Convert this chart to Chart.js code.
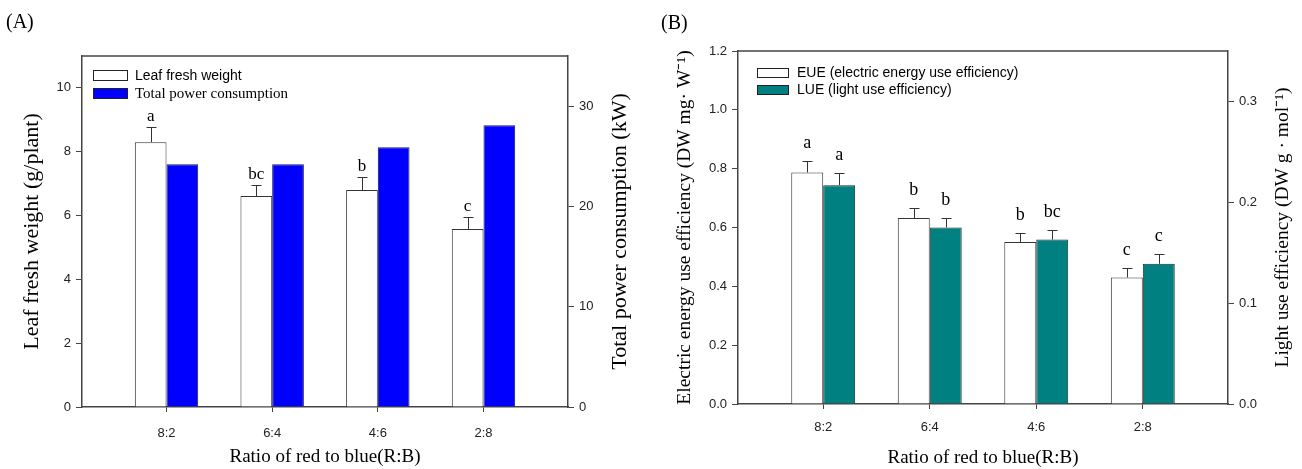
<!DOCTYPE html>
<html>
<head>
<meta charset="utf-8">
<script src="https://cdn.jsdelivr.net/npm/chart.js@4.4.1/dist/chart.umd.min.js"></script>
<style>
  body { margin: 0; background: #fff; }
  #wrap { position: relative; width: 1302px; height: 469px; }
  canvas { position: absolute; top: 0; }
  .tag { position: absolute; font: 20px 'Liberation Serif', serif; color: #000; }
</style>
</head>
<body>
<div id="wrap">
  <canvas id="chartA" width="650" height="469" style="left:0"></canvas>
  <canvas id="chartB" width="652" height="469" style="left:650px"></canvas>
  <div class="tag" style="left:6px;top:10px">(A)</div>
  <div class="tag" style="left:661px;top:11px">(B)</div>
</div>
<script>
const categories = ['8:2', '6:4', '4:6', '2:8'];

// panel A
const leafWeight = [8.30, 6.61, 6.80, 5.58];
const leafWeightSd = [0.47, 0.34, 0.40, 0.38];
const leafLetters = ['a', 'bc', 'b', 'c'];
const powerUse = [24.2, 24.2, 25.9, 28.1];

// panel B
const eue = [0.787, 0.632, 0.551, 0.430];
const eueSd = [0.040, 0.033, 0.032, 0.032];
const eueLetters = ['a', 'b', 'b', 'c'];
const lue = [0.217, 0.175, 0.163, 0.139];
const lueSd = [0.012, 0.009, 0.010, 0.0095];
const lueLetters = ['a', 'b', 'bc', 'c'];

const axisColor = '#444';
const serif = "'Liberation Serif', 'Times New Roman', serif";
const sans = "'Liberation Sans', Arial, sans-serif";

const toPoints = (vals) => vals.map((v, i) => ({ x: i + 1, y: v }));

// error bars (upper only) + significance letters
const errorBars = {
    id: 'errorBars',
    afterDatasetsDraw(chart, args, opts) {
        const ctx = chart.ctx;
        chart.data.datasets.forEach((ds, i) => {
            if (!ds.errors) return;
            const meta = chart.getDatasetMeta(i);
            const scale = chart.scales[meta.yAxisID];
            meta.data.forEach((bar, j) => {
                const yTop = Math.round(scale.getPixelForValue(ds.data[j].y + ds.errors[j])) + 0.5;
                const x = Math.round(bar.x) + 0.5;
                ctx.save();
                ctx.strokeStyle = '#333';
                ctx.lineWidth = 1;
                ctx.beginPath();
                ctx.moveTo(x, bar.y);
                ctx.lineTo(x, yTop);
                ctx.moveTo(x - 5, yTop);
                ctx.lineTo(x + 5, yTop);
                ctx.stroke();
                ctx.fillStyle = '#000';
                ctx.font = opts.font;
                ctx.textAlign = 'center';
                ctx.textBaseline = 'alphabetic';
                ctx.fillText(ds.letters[j], bar.x, yTop - opts.gap);
                ctx.restore();
            });
        });
    }
};

// top frame line and the right-hand title (reads bottom to top)
const frame = {
    id: 'frame',
    afterDraw(chart, args, opts) {
        const { ctx, chartArea } = chart;
        ctx.save();
        ctx.strokeStyle = axisColor;
        ctx.lineWidth = 1.5;
        ctx.beginPath();
        ctx.moveTo(chartArea.left, chartArea.top);
        ctx.lineTo(chartArea.right, chartArea.top);
        ctx.stroke();
        ctx.translate(opts.titleX, (chartArea.top + chartArea.bottom) / 2);
        ctx.rotate(-Math.PI / 2);
        ctx.font = opts.titleFont;
        ctx.fillStyle = '#000';
        ctx.textAlign = 'center';
        ctx.textBaseline = 'middle';
        ctx.fillText(opts.title, 0, 0);
        ctx.restore();
    }
};

// legend stacked in the upper left of the plot
const boxLegend = {
    id: 'boxLegend',
    afterDraw(chart, args, opts) {
        const { ctx, chartArea } = chart;
        ctx.save();
        chart.data.datasets.forEach((ds, i) => {
            const x = Math.round(chartArea.left + opts.x);
            const y = Math.round(chartArea.top + opts.y + i * opts.rowGap);
            ctx.fillStyle = ds.backgroundColor;
            ctx.fillRect(x, y, opts.boxWidth, opts.boxHeight);
            ctx.strokeStyle = '#222';
            ctx.lineWidth = 1;
            ctx.strokeRect(x + 0.5, y + 0.5, opts.boxWidth, opts.boxHeight);
            ctx.fillStyle = '#000';
            ctx.font = opts.fonts[i];
            ctx.textBaseline = 'middle';
            ctx.textAlign = 'left';
            ctx.fillText(ds.label, x + opts.boxWidth + opts.gap, y + opts.boxHeight / 2 + 1);
        });
        ctx.restore();
    }
};

function xAxis(height, labelPad, titlePad) {
    return {
        type: 'linear',
        min: 0.2,
        max: 4.8,
        offset: false,
        afterBuildTicks: (scale) => { scale.ticks = categories.map((c, i) => ({ value: i + 1 })); },
        afterFit: (scale) => { scale.height = height; },
        grid: { display: true, offset: false, drawOnChartArea: false, drawTicks: true, tickLength: 5, color: axisColor },
        border: { display: true, color: axisColor, width: 1.5 },
        ticks: {
            padding: labelPad,
            color: '#222',
            font: { family: sans, size: 13 },
            callback: (v, i) => categories[i]
        },
        title: {
            display: true,
            text: 'Ratio of red to blue(R:B)',
            color: '#000',
            font: { family: serif, size: 19 },
            padding: { top: 0, bottom: titlePad }
        }
    };
}

function yAxis(pos, width, min, max, step, digits, extra) {
    return Object.assign({
        type: 'linear',
        position: pos,
        min: min,
        max: max,
        afterFit: (scale) => { scale.width = width; },
        grid: { display: true, drawOnChartArea: false, drawTicks: true, tickLength: 6, color: axisColor },
        border: { display: true, color: axisColor, width: 1.5 },
        ticks: {
            stepSize: step,
            includeBounds: false,
            padding: 5,
            color: '#222',
            font: { family: sans, size: 13 },
            callback: (v) => v.toFixed(digits)
        }
    }, extra);
}

const baseOptions = {
    responsive: false,
    animation: false,
    layout: { padding: 0 },
    plugins: { legend: { display: false }, tooltip: { enabled: false } }
};

new Chart(document.getElementById('chartA'), {
    type: 'bar',
    data: {
        datasets: [{
            label: 'Leaf fresh weight',
            data: toPoints(leafWeight),
            errors: leafWeightSd,
            letters: leafLetters,
            yAxisID: 'y',
            backgroundColor: '#ffffff',
            borderColor: '#333',
            borderWidth: 1
        }, {
            label: 'Total power consumption',
            data: toPoints(powerUse),
            yAxisID: 'y1',
            backgroundColor: '#0000ff',
            borderColor: '#1a1a5a',
            borderWidth: 1
        }]
    },
    options: {
        ...baseOptions,
        layout: { padding: { top: 56 } },
        datasets: { bar: { categoryPercentage: 0.6, barPercentage: 1.0 } },
        plugins: {
            ...baseOptions.plugins,
            errorBars: { font: '17px ' + serif, gap: 7 },
            frame: { title: 'Total power consumption (kW)', titleX: 620, titleFont: '22px ' + serif },
            boxLegend: { x: 11, y: 14, rowGap: 18, boxWidth: 34, boxHeight: 10, gap: 8, fonts: ['14px ' + sans, '15px ' + serif] }
        },
        scales: {
            x: xAxis(62, 14, 1),
            y: yAxis('left', 82, 0, 11, 2, 0, {
                title: {
                    display: true,
                    text: 'Leaf fresh weight (g/plant)',
                    color: '#000',
                    font: { family: serif, size: 22 },
                    padding: { top: 19, bottom: 0 }
                }
            }),
            y1: yAxis('right', 82, 0, 35, 10, 0, {})
        }
    },
    plugins: [errorBars, frame, boxLegend]
});

new Chart(document.getElementById('chartB'), {
    type: 'bar',
    data: {
        datasets: [{
            label: 'EUE (electric energy use efficiency)',
            data: toPoints(eue),
            errors: eueSd,
            letters: eueLetters,
            yAxisID: 'y',
            backgroundColor: '#ffffff',
            borderColor: '#333',
            borderWidth: 1
        }, {
            label: 'LUE (light use efficiency)',
            data: toPoints(lue),
            errors: lueSd,
            letters: lueLetters,
            yAxisID: 'y1',
            backgroundColor: '#008080',
            borderColor: '#1a2a2a',
            borderWidth: 1
        }]
    },
    options: {
        ...baseOptions,
        layout: { padding: { top: 51 } },
        datasets: { bar: { categoryPercentage: 0.6, barPercentage: 1.0 } },
        plugins: {
            ...baseOptions.plugins,
            errorBars: { font: '18px ' + serif, gap: 14 },
            frame: { title: 'Light use efficiency (DW g · mol⁻¹)', titleX: 633, titleFont: '19.5px ' + serif },
            boxLegend: { x: 19, y: 17, rowGap: 17, boxWidth: 31, boxHeight: 9, gap: 9, fonts: ['14px ' + sans, '14px ' + sans] }
        },
        scales: {
            x: xAxis(65, 11, 0),
            y: yAxis('left', 88, 0, 1.2, 0.2, 1, {
                title: {
                    display: true,
                    text: 'Electric energy use efficiency (DW mg· W⁻¹)',
                    color: '#000',
                    font: { family: serif, size: 19.5 },
                    padding: { top: 23, bottom: 0 }
                }
            }),
            y1: yAxis('right', 74, 0, 0.35, 0.1, 1, {})
        }
    },
    plugins: [errorBars, frame, boxLegend]
});
</script>
</body>
</html>
